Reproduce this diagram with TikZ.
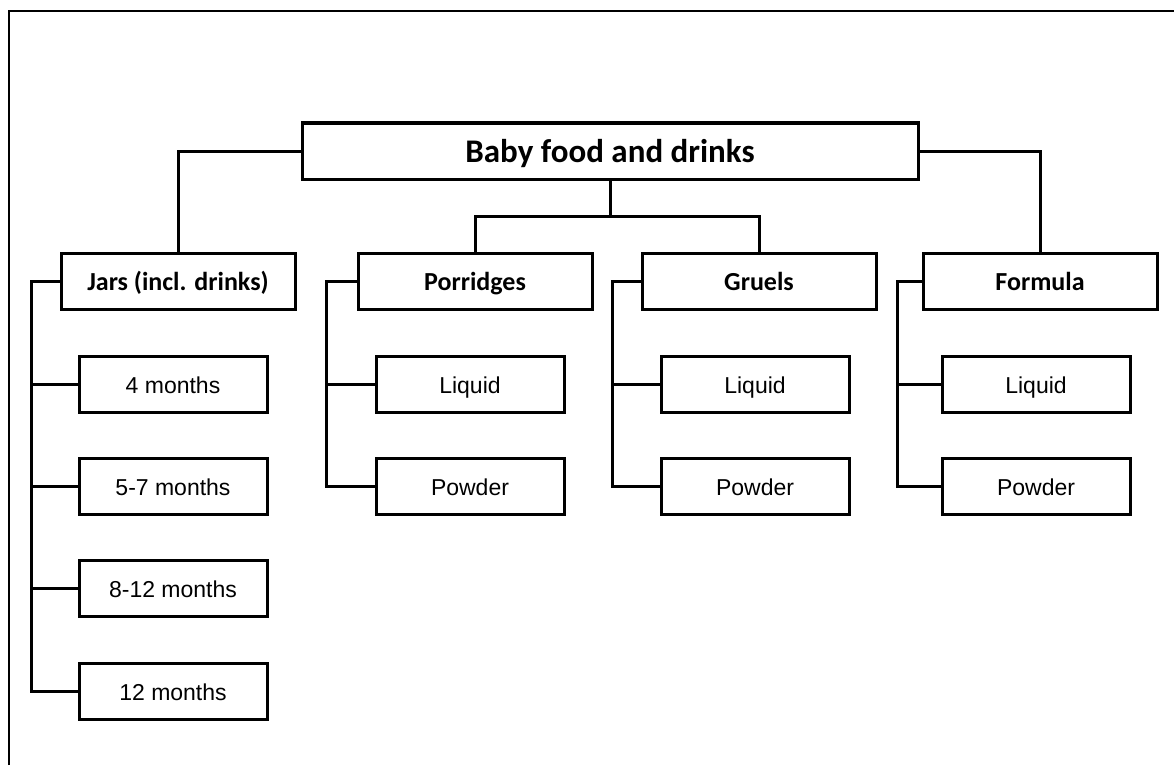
\documentclass[tikz,border=0pt]{standalone}
\usepackage{fontspec}
\setmainfont{Liberation Sans}
\newfontfamily\headfont{Carlito}
\begin{document}
\begin{tikzpicture}[x=1pt,y=-1pt,
  box/.style={draw, line width=3pt, inner sep=0pt, minimum height=56pt},
  headbox/.style={box, minimum width=234pt, text height=20pt, text depth=1.6pt,
    font=\headfont\bfseries\fontsize{26}{28}\selectfont},
  leafbox/.style={box, minimum width=188pt, text height=20pt, text depth=2pt,
    font=\fontsize{23}{26}\selectfont},
  link/.style={line width=3pt}]
\useasboundingbox (0,0) rectangle (1174,765);
% open frame along the top and left side
\draw[line width=2pt] (9,765) -- (9,11) -- (1174,11);

% root
\node[box, minimum width=616pt, text height=24pt, text depth=1.4pt,
  font=\headfont\bfseries\fontsize{33}{36}\selectfont] (root) at (610,151) {Baby food and drinks};

% categories
\node[headbox] (jars) at (178,281) {Jars (incl. drinks)};
\node[headbox] (porr) at (475,281) {Porridges};
\node[headbox] (gru)  at (759,281) {Gruels};
\node[headbox] (form) at (1040,281) {Formula};

% jars
\node[leafbox] (j4)   at (173,384) {4 months};
\node[leafbox] (j57)  at (173,486) {5-7 months};
\node[leafbox] (j812) at (173,588) {8-12 months};
\node[leafbox] (j12)  at (173,691) {12 months};
% porridges
\node[leafbox] (pl) at (470,384) {Liquid};
\node[leafbox] (pp) at (470,486) {Powder};
% gruels
\node[leafbox] (gl) at (755,384) {Liquid};
\node[leafbox] (gp) at (755,486) {Powder};
% formula
\node[leafbox] (fl) at (1036,384) {Liquid};
\node[leafbox] (fp) at (1036,486) {Powder};

% root to categories
\draw[link] (root.west) -| (jars.north);
\draw[link] (root.east) -| (form.north);
\coordinate (split) at (610,216);
\draw[link] (root.south) -- (split);
\draw[link] (porr.north) |- (split) -| (gru.north);

% side rails
\coordinate (jr) at (31,281);
\coordinate (pr) at (326,281);
\coordinate (gr) at (612,281);
\coordinate (fr) at (897,281);
\draw[link] (jars.west) -- (jr) |- (j12.west);
\foreach \n in {j4,j57,j812} \draw[link] (\n.west) -- (\n.west -| jr);
\draw[link] (porr.west) -- (pr) |- (pp.west);
\draw[link] (pl.west) -- (pl.west -| pr);
\draw[link] (gru.west) -- (gr) |- (gp.west);
\draw[link] (gl.west) -- (gl.west -| gr);
\draw[link] (form.west) -- (fr) |- (fp.west);
\draw[link] (fl.west) -- (fl.west -| fr);
\end{tikzpicture}
\end{document}
